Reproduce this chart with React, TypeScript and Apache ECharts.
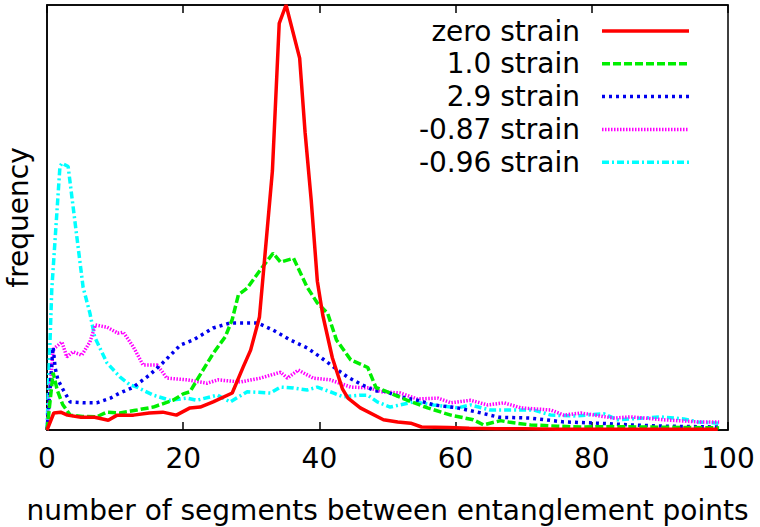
import React, { useEffect, useRef } from "react";
import * as echarts from "echarts";

const xTicks = [0, 20, 40, 60, 80, 100];
const seriesNames = ["zero strain", "1.0 strain", "2.9 strain", "-0.87 strain", "-0.96 strain"];
const seriesColors = ["#ff0000", "#00ee00", "#0000ee", "#ff00ff", "#00ffff"];
const seriesDash: (number[] | null)[] = [null, [8, 3], [3, 4], [1.5, 1.5], [7, 3, 2, 3]];

const zeroStrain = [
  [0, 0], [1, 4], [2, 4.2], [3, 3.5], [5, 3], [7, 3], [9, 2.3], [10.3, 3.5], [12.7, 3.5], [15, 4],
  [17, 4.2], [19, 3.5], [21, 5.2], [22.5, 5.4], [24.4, 6.6], [27.2, 8.7], [28.8, 14.8], [29.9, 18.8],
  [31.2, 26.6], [33.1, 61], [34.1, 95.7], [35.1, 100], [37.1, 87.5], [37.9, 70], [38.8, 54],
  [39.7, 35], [40.5, 27], [41.9, 17], [43.4, 9.6], [44.2, 7.5], [46, 5.2], [49.4, 2.4], [51.5, 1.9],
  [53.4, 1.6], [55, 0.7], [59, 0.6], [62, 0.4], [66, 0.3], [70, 0.3], [75, 0.2], [80, 0.2],
  [85, 0.2], [90, 0.2], [95, 0.2], [98.5, 0.2],
];

const strain10 = [
  [0, 0], [0.9, 13.5], [1.5, 9.4], [2.3, 6], [3.4, 3.5], [5.2, 3.2], [7.3, 3.1], [8.8, 4.2],
  [10.7, 4], [13.2, 4.7], [15.6, 5.4], [18.5, 7], [20, 8.5], [21, 9], [22.3, 12.5], [24.4, 18],
  [26.2, 22], [27.2, 26], [28.1, 31.8], [29.4, 33.4], [31.3, 37.6], [33.2, 41.6], [34.3, 39.5],
  [36.2, 40.4], [38.2, 33.6], [39.7, 29.9], [41.2, 27.5], [42.5, 21.2], [44.6, 16.5], [47.1, 14.7],
  [48.3, 10], [50.4, 8.7], [52.9, 7], [55.9, 5.2], [59.3, 3.5], [62.6, 2.4], [64.1, 1.2],
  [66.6, 2.2], [68, 1.8], [71, 1.2], [75, 0.9], [78.4, 0.7], [83, 0.8], [88, 0.7], [93, 0.6],
  [98.7, 0.5],
];

const strain29 = [
  [0, 0], [0.9, 19.5], [1.2, 14.6], [1.6, 11.8], [2.4, 9.4], [3.4, 6.6], [5.3, 6.4], [7.3, 6.4],
  [9.3, 7.5], [10.7, 8.7], [12.6, 10], [15.1, 13], [17, 15.8], [19.6, 20], [21.5, 21.2],
  [24.4, 24], [26.9, 25.2], [30.9, 25.2], [33.2, 23.5], [35.7, 21.2], [38.2, 19.3], [40.1, 17.2],
  [42.1, 14.8], [44.1, 12.5], [46.3, 10.6], [48.2, 9.2], [49.4, 9.2], [51.9, 7.8], [54.4, 7],
  [56.8, 5.9], [60.3, 5.2], [63.2, 4.2], [66.4, 3], [71, 2.8], [75.9, 1.9], [80.9, 1.6],
  [85.7, 1.2], [90.6, 0.9], [95, 0.8], [98.7, 0.7],
];

const strainM087 = [
  [0, 0], [0.9, 19], [2.2, 20.7], [2.9, 17.2], [3.8, 18.4], [5.1, 17.6], [6.3, 20.7], [7.1, 24.7],
  [8.8, 24.2], [10.4, 22.8], [11.2, 23], [12.7, 19.5], [13.7, 16.5], [14.1, 15.3], [16.2, 15.3],
  [17.6, 12.2], [20.6, 11.8], [23.5, 11], [25.1, 11.8], [28.4, 11.3], [31.3, 12.2], [34.3, 13.6],
  [35.3, 12.2], [36.9, 14.1], [39.1, 12.2], [41.6, 11.8], [44.6, 10.1], [47.5, 9.9], [49, 9],
  [51.9, 8.7], [54.4, 7.3], [57.4, 7.5], [59.3, 6.4], [62.2, 7], [64.7, 5.9], [67.1, 6.4],
  [69.6, 5.2], [74, 4.7], [75.9, 3.5], [78.4, 4], [83.2, 2.8], [85.7, 3.1], [90.6, 2.4],
  [95.6, 1.9], [98.7, 1.9],
];

const strainM096 = [
  [0, 0], [0.7, 33], [1.9, 62], [2.2, 62.8], [3.1, 62], [5.3, 33.6], [6.3, 27.5], [7, 21.9],
  [8.8, 15.8], [10.7, 12.5], [12.2, 10.6], [13.2, 10.1], [15.6, 8.2], [18.1, 7], [20.6, 7.5],
  [22, 7], [25, 8.2], [26.9, 6.6], [29.4, 9], [32.8, 8.7], [34.3, 10.1], [36.2, 9.9], [38.2, 9.4],
  [39.7, 10.1], [42.1, 8.7], [43.5, 7.8], [46, 8.2], [47.1, 8.2], [48.5, 6.6], [50.4, 5.4],
  [53.8, 6.6], [56.8, 5.9], [60.3, 5.2], [62.2, 5.9], [65.1, 4.7], [68, 4.7], [71.5, 4.7],
  [74, 3.5], [77.3, 3.3], [81.8, 3.8], [83.8, 2.4], [87.6, 2.8], [90.1, 3.1], [93.5, 2.6],
  [95.6, 1.9], [98.7, 1.6],
];

const allData = [zeroStrain, strain10, strain29, strainM087, strainM096];

const FONT = "DejaVu Sans";

export default function App() {
  const ref = useRef<HTMLDivElement>(null);
  useEffect(() => {
    if (!ref.current) return;
    const chart = echarts.init(ref.current, null, { renderer: "svg" });
    const gl = 47, gr = 728, gt = 5, gb = 430;
    const legendGraphics: any[] = [];
    seriesNames.forEach((name, i) => {
      const cy = 31 + i * 32.8;
      legendGraphics.push({
        type: "text",
        x: 580,
        y: cy,
        style: {
          text: name,
          fill: "#000",
          font: `28px "${FONT}"`,
          align: "right",
          verticalAlign: "middle",
        },
      });
      legendGraphics.push({
        type: "line",
        shape: { x1: 602, y1: cy, x2: 689, y2: cy },
        style: {
          stroke: seriesColors[i],
          lineWidth: 3.5,
          lineDash: seriesDash[i] || undefined,
        },
      });
    });
    chart.setOption({
      animation: false,
      backgroundColor: "#fff",
      grid: {
        left: gl,
        right: 760 - gr,
        top: gt,
        bottom: 527 - gb,
        show: true,
        borderColor: "#000",
        borderWidth: 1.5,
        containLabel: false,
        outerBoundsMode: "none",
      },
      xAxis: [
        {
          type: "value",
          min: 0,
          max: 100,
          interval: 20,
          position: "bottom",
          name: "number of segments between entanglement points",
          nameLocation: "middle",
          nameGap: 66,
          nameTextStyle: { fontFamily: FONT, fontSize: 28, color: "#000" },
          axisLine: { show: true, lineStyle: { color: "#000", width: 1.5 } },
          axisTick: { show: true, inside: true, length: 8, lineStyle: { color: "#000", width: 1.5 } },
          axisLabel: {
            show: true,
            margin: 14,
            fontFamily: FONT,
            fontSize: 28,
            color: "#000",
            customValues: xTicks,
          },
          splitLine: { show: false },
        },
        {
          type: "value",
          min: 0,
          max: 100,
          interval: 20,
          position: "top",
          axisLine: { show: true, lineStyle: { color: "#000", width: 1.5 } },
          axisTick: { show: true, inside: true, length: 8, lineStyle: { color: "#000", width: 1.5 } },
          axisLabel: { show: false },
          splitLine: { show: false },
        },
      ],
      yAxis: {
        type: "value",
        min: 0,
        max: 100,
        name: "frequency",
        nameLocation: "middle",
        nameGap: 15,
        nameTextStyle: { fontFamily: FONT, fontSize: 28, color: "#000" },
        axisLine: { show: true, lineStyle: { color: "#000", width: 1.5 } },
        axisTick: { show: false },
        axisLabel: { show: false },
        splitLine: { show: false },
      },
      series: seriesNames.map((name, i) => ({
        name,
        type: "line",
        xAxisIndex: 0,
        data: allData[i],
        showSymbol: false,
        symbol: "none",
        clip: true,
        z: 10 - i,
        lineStyle: {
          color: seriesColors[i],
          width: 3.5,
          type: seriesDash[i] ? seriesDash[i] : "solid",
        },
      })),
      graphic: legendGraphics,
    });
    return () => chart.dispose();
  }, []);
  return <div ref={ref} style={{ width: 760, height: 527, position: "absolute", left: 0, top: 0 }} />;
}
